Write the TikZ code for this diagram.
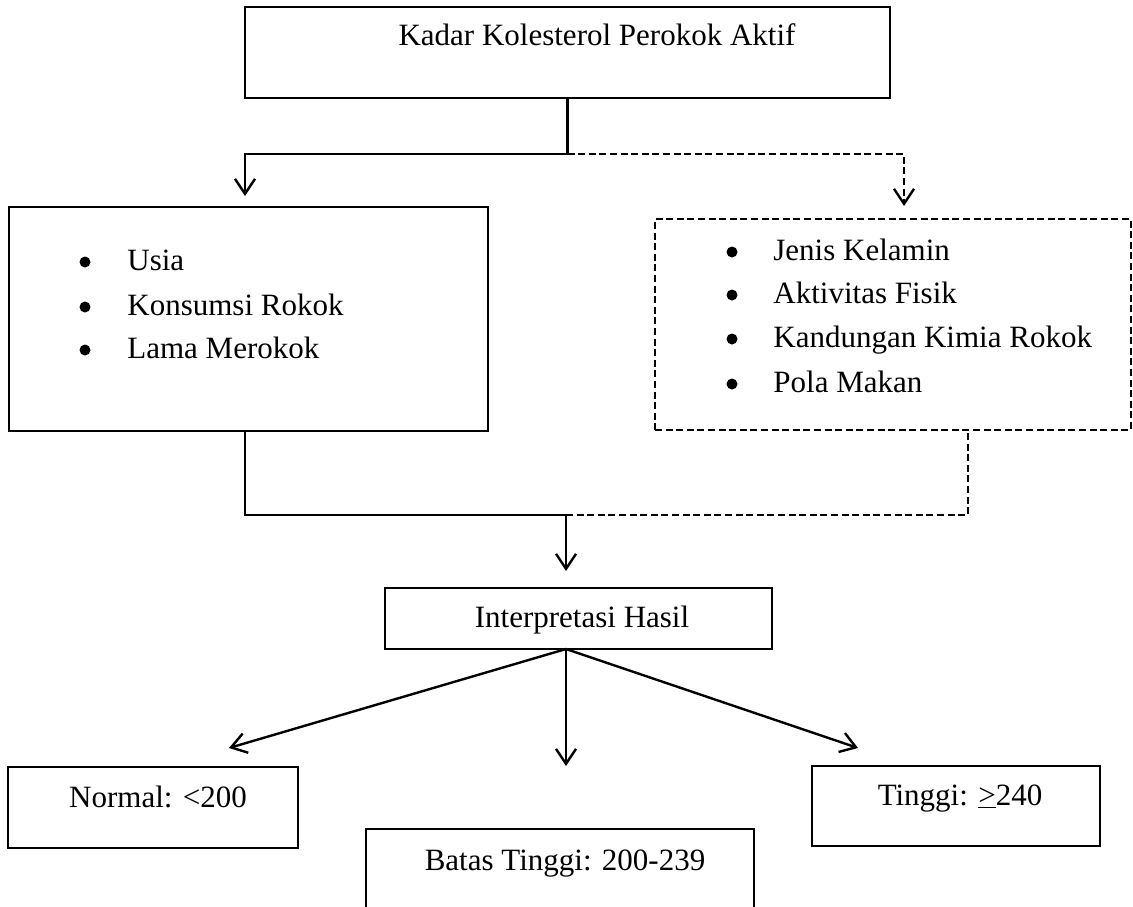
\documentclass[tikz,border=0pt]{standalone}
\usepackage{fontspec}
\setmainfont{Liberation Serif}
\usetikzlibrary{arrows.meta,calc}
\begin{document}
\begin{tikzpicture}[x=0.5pt,y=-0.5pt,
  ln/.style={line width=1.2pt,line join=miter},
  dsh/.style={ln,dash pattern=on 3.5pt off 1.8pt},
  arr/.style={-{Straight Barb[length=7.5pt,width=10pt,line width=1.2pt]}},
  box/.style={draw,line width=1.2pt,inner sep=0pt},
  dbox/.style={box,dash pattern=on 3.5pt off 1.8pt},
  txt/.style={font=\fontsize{15.5}{19}\selectfont,inner sep=0pt,anchor=base},
  itm/.style={font=\fontsize{15.5}{19}\selectfont,inner sep=0pt,anchor=base west},
  bul/.style={circle,fill,inner sep=0pt,minimum size=5.5pt}
]
\useasboundingbox (0,0) rectangle (1133,906);

% boxes
\node[box,minimum width=322.5pt,minimum height=45.5pt] (top) at (567.5,52.5) {};
\node[box,minimum width=239.5pt,minimum height=112pt] (left) at (248.5,319) {};
\node[dbox,minimum width=238pt,minimum height=105.5pt] (right) at (893,324.5) {};
\node[box,minimum width=193.5pt,minimum height=30.5pt] (interp) at (578.5,618.5) {};
\node[box,minimum width=145pt,minimum height=40.5pt] (normal) at (153,807.5) {};
\node[box,minimum width=144pt,minimum height=40pt] (tinggi) at (956,806) {};
\node[box,minimum width=194pt,minimum height=55pt] (batas) at (560,884) {};

% texts
\node[txt] (ttop) at (597,45) {Kadar Kolesterol Perokok Aktif};
\node[txt] (tinterp) at (582,627) {Interpretasi Hasil};
\node[txt] (tnormal) at (158,807) {Normal: <200};
\node[txt] (ttinggi) at (960,805) {Tinggi: \underline{>}240};
\node[txt] (tbatas) at (565,870) {Batas Tinggi: 200-239};

\node[bul] (bl1) at (85,262) {};
\node[bul] (bl2) at (85,307) {};
\node[bul] (bl3) at (85,350) {};
\node[itm] (l1) at (127,270) {Usia};
\node[itm] (l2) at (127,315) {Konsumsi Rokok};
\node[itm] (l3) at (127,358) {Lama Merokok};

\node[bul] (br1) at (732,252) {};
\node[bul] (br2) at (732,295) {};
\node[bul] (br3) at (732,339) {};
\node[bul] (br4) at (732,384) {};
\node[itm] (r1) at (773,260) {Jenis Kelamin};
\node[itm] (r2) at (773,303) {Aktivitas Fisik};
\node[itm] (r3) at (773,347) {Kandungan Kimia Rokok};
\node[itm] (r4) at (773,392) {Pola Makan};

% connector points
\coordinate (j1) at (567.5,154);
\coordinate (tipL) at (245,196);
\coordinate (tipR) at (904,206);
\coordinate (j2) at (566,515);
\coordinate (tipI) at (566,571);
\coordinate (rb) at (968,430);
\coordinate (isrc) at (566,649);
\coordinate (tipN) at (229,748);
\coordinate (tipB) at (566,766);
\coordinate (tipT) at (858,748);

% top connectors
\draw[ln] (top.south) -- (j1);
\draw[ln,arr] (j1) -| (tipL);
\draw[dsh,arr] (j1) -| (tipR);

% bottom connectors
\draw[ln] (tipL |- left.south) -- (tipL |- j2) -- (j2);
\draw[dsh] (j2) -| (rb);
\draw[ln,arr] (j2) -- (tipI);

% from interpretation
\draw[ln,arr] (isrc) -- (tipN);
\draw[ln,arr] (isrc) -- (tipB);
\draw[ln,arr] (isrc) -- (tipT);
\end{tikzpicture}
\end{document}
